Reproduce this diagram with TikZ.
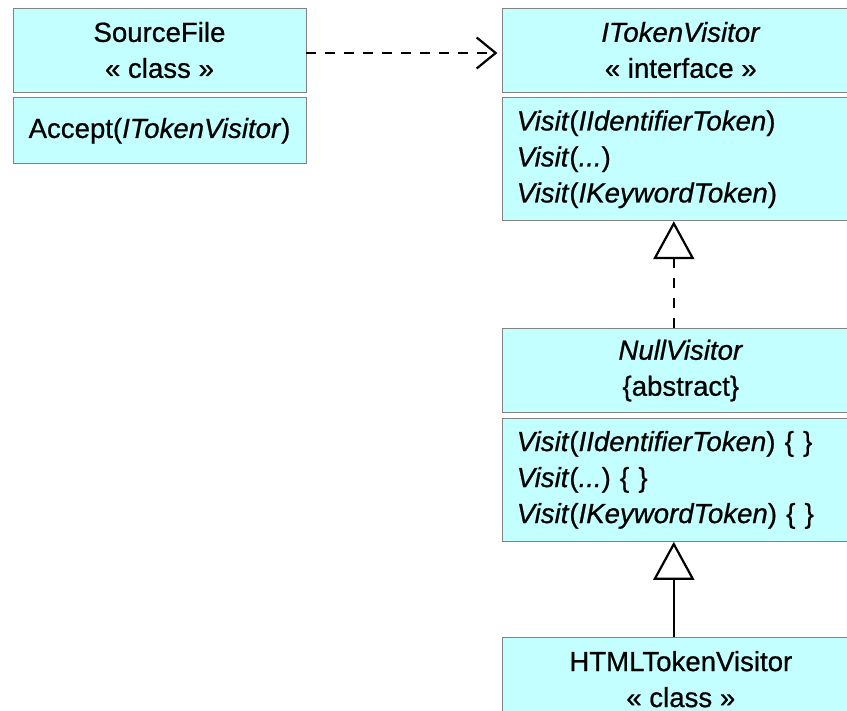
\documentclass[tikz,border=0pt]{standalone}
\usepackage{fontspec}
\setmainfont{Liberation Sans}[FakeBold=0.7]
\usetikzlibrary{arrows.meta, positioning}

\definecolor{umlcyan}{RGB}{196,255,255}
\definecolor{umlgray}{RGB}{130,130,130}

\begin{document}
\begin{tikzpicture}[
    every node/.style={font=\fontsize{13.8pt}{18pt}\selectfont},
    head/.style={rectangle, draw=umlgray, fill=umlcyan, minimum height=42pt, align=center, inner sep=0pt},
    ops/.style={rectangle, draw=umlgray, fill=umlcyan, align=left, inner xsep=7pt, inner ysep=0pt},
    depend/.style={-{Straight Barb[length=9.5pt, width=15.5pt]}, line width=1.1pt, dash pattern=on 5pt off 4.5pt},
    realize/.style={-{Triangle[length=19pt, width=20.5pt, fill=white]}, line width=1.1pt, dash pattern=on 5pt off 5pt},
    inherit/.style={-{Triangle[length=19pt, width=20.5pt, fill=white]}, line width=1.1pt}
]

% frame
\useasboundingbox (0,0) rectangle (423.5pt,-355.5pt);
\clip (0,0) rectangle (423.5pt,-355.5pt);

% ============ SOURCE FILE ============
\node[head, minimum width=146.5pt] (src_head) at (79.75pt,-25pt) {SourceFile\\« class »};
\node[ops, align=center, minimum width=146.5pt, minimum height=33pt, below=2.5pt of src_head] (src_ops) {Accept(\textit{ITokenVisitor})};

% ============ VISITOR INTERFACE ============
\node[head, minimum width=178pt, right=98pt of src_head] (itv_head) {\textit{ITokenVisitor}\\« interface »};
\node[ops, text width=164pt, minimum height=61.5pt, below=2.5pt of itv_head] (itv_ops)
    {\textit{Visit}(\textit{IIdentifierToken})\\\textit{Visit}(\textit{...})\\\textit{Visit}(\textit{IKeywordToken})};

% ============ NULL VISITOR ============
\node[head, minimum width=178pt, below=53.5pt of itv_ops] (nv_head) {\textit{NullVisitor}\\\{abstract\}};
\node[ops, text width=164pt, minimum height=61.5pt, below=2.5pt of nv_head] (nv_ops)
    {\textit{Visit}(\textit{IIdentifierToken})\ \{ \}\\\textit{Visit}(\textit{...})\ \{ \}\\\textit{Visit}(\textit{IKeywordToken})\ \{ \}};

% ============ HTML VISITOR ============
\node[head, minimum width=178pt, below=47.5pt of nv_ops] (html_head) {HTMLTokenVisitor\\« class »};

% Arrows
\draw[depend] ([yshift=-1.5pt]src_head.east) -- ([xshift=-2.5pt, yshift=-1.5pt]itv_head.west);
\draw[realize] ([xshift=-3.5pt]nv_head.north) -- ([xshift=-3.5pt]itv_ops.south);
\draw[inherit] ([xshift=-3.5pt]html_head.north) -- ([xshift=-3.5pt]nv_ops.south);

\end{tikzpicture}
\end{document}
